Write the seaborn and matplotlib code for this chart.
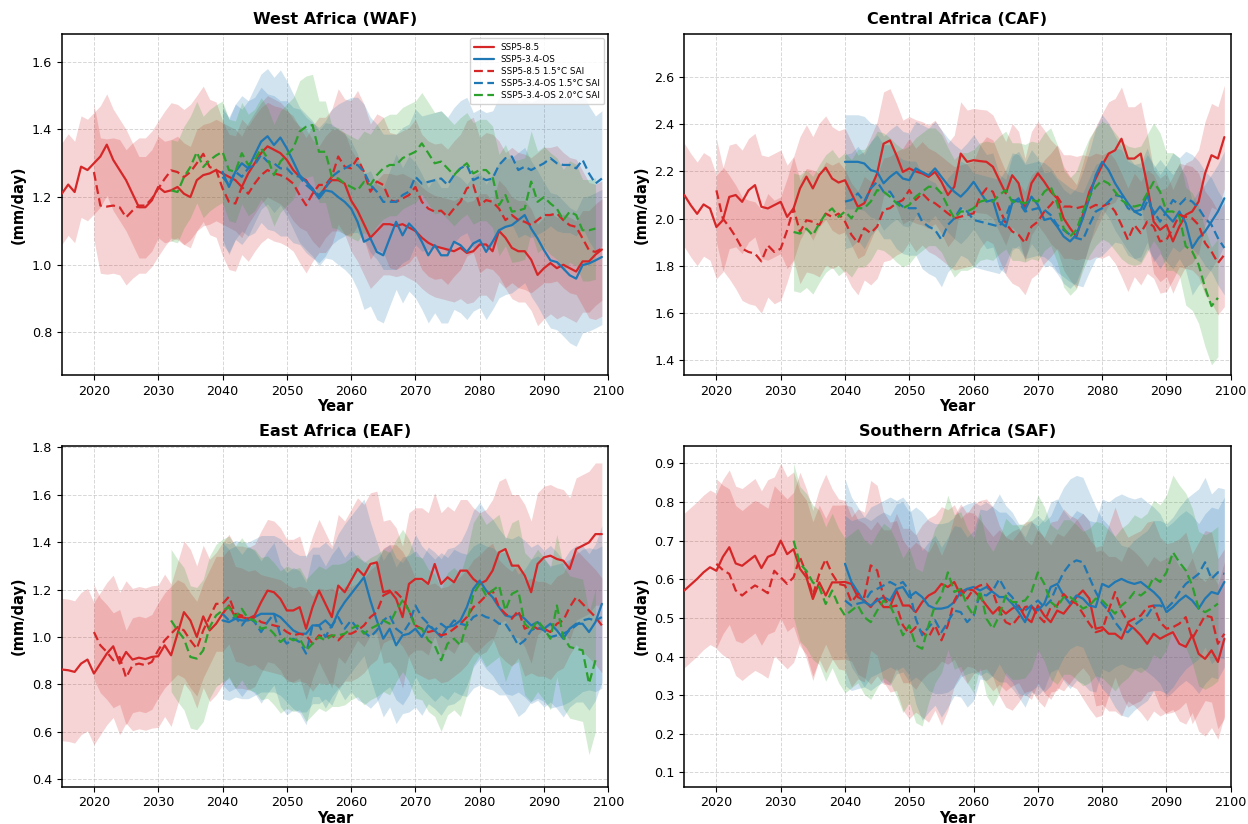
import numpy as np
import pandas as pd
import matplotlib
matplotlib.use("Agg")
import matplotlib.pyplot as plt
import seaborn as sns
from matplotlib.lines import Line2D

SCENARIOS = ["SSP5-8.5", "SSP5-3.4-OS", "SSP5-8.5 1.5°C SAI",
             "SSP5-3.4-OS 1.5°C SAI", "SSP5-3.4-OS 2.0°C SAI"]
START_YEARS = [2015, 2040, 2020, 2040, 2032]
COLORS = ["#d62728", "#1f77b4", "#d62728", "#1f77b4", "#2ca02c"]
DASHED = [False, False, True, True, True]
REGIONS = ["West Africa (WAF)", "Central Africa (CAF)",
           "East Africa (EAF)", "Southern Africa (SAF)"]
XTICKS = [2020, 2030, 2040, 2050, 2060, 2070, 2080, 2090, 2100]

# ---------------- West Africa ----------------
waf_ssp585 = [1.21, 1.237, 1.215, 1.29, 1.28, 1.30, 1.32, 1.355, 1.31, 1.28,
              1.25, 1.21, 1.17, 1.17, 1.19, 1.23, 1.215, 1.22, 1.23, 1.21,
              1.20, 1.25, 1.265, 1.27, 1.28,
              1.27, 1.26, 1.25, 1.23, 1.27, 1.30, 1.33, 1.35, 1.34, 1.33,
              1.31, 1.28, 1.26, 1.25, 1.22, 1.20, 1.23, 1.25, 1.25, 1.24,
              1.19, 1.16, 1.12, 1.08, 1.10, 1.12, 1.12, 1.115, 1.12, 1.11,
              1.10, 1.08, 1.065, 1.055, 1.05, 1.045, 1.04, 1.05, 1.035, 1.04,
              1.06, 1.06, 1.04, 1.10, 1.08, 1.05, 1.04, 1.04, 1.015, 0.97,
              0.99, 1.005, 0.99, 1.00, 0.99, 0.98, 1.01, 1.01, 1.03, 1.045]
waf_ssp534 = [1.275, 1.23, 1.275, 1.30, 1.285, 1.325, 1.364, 1.38, 1.354, 1.376,
              1.344, 1.305, 1.265, 1.245, 1.226, 1.196, 1.22, 1.216, 1.20, 1.186,
              1.166, 1.127, 1.068, 1.078, 1.038, 1.028, 1.078, 1.127, 1.087, 1.122,
              1.102, 1.068, 1.028, 1.058, 1.028, 1.028, 1.068, 1.058, 1.038, 1.063,
              1.073, 1.038, 1.068, 1.102, 1.112, 1.117, 1.132, 1.147, 1.107, 1.078,
              1.043, 1.013, 1.008, 0.989, 0.969, 0.959, 0.999, 1.004, 1.013, 1.023]
waf_sai85_15 = [1.274, 1.175, 1.172, 1.175, 1.17, 1.14, 1.16, 1.175, 1.175, 1.195,
                1.225, 1.254, 1.279, 1.274, 1.259, 1.274, 1.30, 1.328, 1.289, 1.281,
                1.226, 1.186, 1.181, 1.23, 1.21, 1.24, 1.265, 1.28, 1.27, 1.265,
                1.255, 1.24, 1.206, 1.176, 1.21, 1.236, 1.236, 1.26, 1.32, 1.29,
                1.285, 1.315, 1.275, 1.216, 1.246, 1.236, 1.191, 1.186, 1.196, 1.206,
                1.23, 1.186, 1.166, 1.157, 1.16, 1.142, 1.166, 1.186, 1.226, 1.236,
                1.176, 1.191, 1.186, 1.166, 1.132, 1.147, 1.132, 1.127, 1.117, 1.132,
                1.147, 1.147, 1.152, 1.132, 1.117, 1.112, 1.078, 1.043, 1.038, 1.048]
waf_sai34_15 = [1.26, 1.236, 1.275, 1.26, 1.285, 1.295, 1.325, 1.305, 1.30, 1.285,
                1.285, 1.265, 1.26, 1.236, 1.22, 1.206, 1.226, 1.26, 1.275, 1.285,
                1.295, 1.295, 1.275, 1.236, 1.216, 1.186, 1.186, 1.186, 1.206, 1.216,
                1.26, 1.24, 1.245, 1.25, 1.255, 1.236, 1.265, 1.285, 1.295, 1.25,
                1.26, 1.25, 1.255, 1.295, 1.315, 1.32, 1.28, 1.29, 1.28, 1.29,
                1.30, 1.315, 1.30, 1.295, 1.295, 1.285, 1.31, 1.27, 1.24, 1.255]
waf_sai34_20 = [1.22, 1.215, 1.259, 1.289, 1.333, 1.289, 1.309, 1.323,
                1.334, 1.28, 1.275, 1.33, 1.295, 1.31, 1.344, 1.315, 1.265, 1.305,
                1.325, 1.344, 1.394, 1.408, 1.413, 1.334, 1.334, 1.26, 1.255, 1.24,
                1.23, 1.22, 1.245, 1.236, 1.265, 1.285, 1.295, 1.295, 1.315, 1.325,
                1.334, 1.359, 1.33, 1.30, 1.305, 1.285, 1.265, 1.285, 1.30, 1.27,
                1.28, 1.28, 1.26, 1.176, 1.206, 1.157, 1.16, 1.166, 1.246, 1.186,
                1.20, 1.181, 1.166, 1.132, 1.157, 1.147, 1.102, 1.102, 1.107]
waf_spread = [0.15, 0.20, 0.20, 0.20, 0.15]
waf_ylim = (0.674, 1.682)
waf_yticks = [0.8, 1.0, 1.2, 1.4, 1.6]

# ---------------- Central Africa ----------------
caf_ssp585 = [2.10, 2.057, 2.02, 2.06, 2.043, 1.964, 1.993, 2.092, 2.10, 2.071,
              2.12, 2.142, 2.05, 2.043, 2.057, 2.071, 2.007, 2.043, 2.128, 2.178,
              2.128, 2.185, 2.216, 2.17, 2.153,
              2.163, 2.107, 2.05, 2.065, 2.128, 2.192, 2.318, 2.332, 2.269, 2.198,
              2.213, 2.20, 2.192, 2.177, 2.198, 2.156, 2.10, 2.135, 2.276, 2.241,
              2.248, 2.244, 2.241, 2.22, 2.163, 2.107, 2.184, 2.15, 2.036, 2.15,
              2.192, 2.156, 2.114, 2.086, 2.001, 1.959, 1.924, 2.016, 2.114, 2.17,
              2.227, 2.276, 2.29, 2.339, 2.255, 2.255, 2.276, 2.142, 1.987, 1.952,
              1.973, 1.903, 1.966, 2.016, 2.03, 2.072, 2.192, 2.269, 2.255, 2.346]
caf_ssp534 = [2.241, 2.241, 2.241, 2.234, 2.206, 2.198, 2.15, 2.177, 2.198, 2.17,
              2.163, 2.213, 2.198, 2.184, 2.213, 2.177, 2.142, 2.114, 2.093, 2.121,
              2.156, 2.114, 2.072, 2.079, 1.987, 1.966, 2.065, 2.086, 2.036, 2.093,
              2.058, 1.994, 2.001, 1.966, 1.924, 1.903, 1.931, 2.001, 2.086, 2.184,
              2.241, 2.206, 2.15, 2.107, 2.065, 2.03, 2.037, 2.10, 2.016, 2.051,
              2.016, 1.987, 2.03, 1.98, 1.875, 1.917, 1.945, 1.987, 2.03, 2.086]
caf_sai85_15 = [2.12, 2.0, 1.964, 1.922, 1.872, 1.858, 1.851, 1.818, 1.886, 1.858,
                1.872, 1.95, 2.043, 1.943, 1.993, 1.986, 1.972, 2.021, 2.007, 2.021,
                1.987, 1.931, 1.896, 1.959, 1.938, 1.966, 2.037, 2.044, 2.065, 2.079,
                2.121, 2.079, 2.107, 2.079, 2.065, 2.044, 2.022, 2.001, 2.008, 2.015,
                2.022, 2.093, 2.128, 2.114, 2.044, 1.98, 1.945, 1.931, 1.896, 1.966,
                1.987, 2.03, 2.058, 2.093, 2.051, 2.051, 2.044, 2.051, 2.044, 2.058,
                2.051, 2.065, 2.03, 1.973, 1.91, 1.973, 1.938, 1.987, 1.966, 1.903,
                1.91, 1.959, 2.015, 2.008, 2.001, 1.973, 1.896, 1.86, 1.811, 1.846]
caf_sai34_15 = [2.072, 2.079, 2.107, 2.072, 2.128, 2.156, 2.114, 2.114, 2.072, 2.051,
                2.044, 2.044, 1.987, 1.966, 1.952, 1.91, 1.973, 2.001, 2.044, 2.03,
                1.994, 1.987, 1.98, 1.973, 1.966, 2.008, 2.079, 2.072, 2.03, 2.037,
                2.044, 2.037, 2.015, 1.973, 1.952, 1.931, 1.917, 1.91, 1.973, 2.03,
                2.044, 2.072, 2.10, 2.093, 2.044, 2.03, 2.015, 2.072, 2.03, 1.987,
                2.03, 2.079, 2.058, 2.086, 2.072, 2.044, 2.001, 1.973, 1.917, 1.875]
caf_sai34_20 = [1.943, 1.936, 1.957, 1.929, 1.979, 2.021, 2.043, 2.007,
                2.03, 2.001, 2.044, 2.044, 2.072, 2.121, 2.114, 2.093, 2.065, 2.044,
                2.058, 2.093, 2.114, 2.135, 2.135, 2.107, 2.051, 2.001, 2.03, 2.03,
                2.044, 2.072, 2.079, 2.072, 2.10, 2.121, 2.072, 2.072, 2.065, 2.079,
                2.072, 2.114, 2.135, 2.065, 1.959, 1.924, 1.952, 2.03, 2.093, 2.135,
                2.163, 2.149, 2.114, 2.079, 2.058, 2.051, 2.058, 2.107, 2.156, 2.114,
                2.03, 2.03, 2.008, 1.882, 1.86, 1.804, 1.706, 1.628, 1.663]
caf_spread = [0.22, 0.20, 0.22, 0.20, 0.25]
caf_ylim = (1.335, 2.784)
caf_yticks = [1.4, 1.6, 1.8, 2.0, 2.2, 2.4, 2.6]

# ---------------- East Africa ----------------
eaf_ssp585 = [0.863, 0.86, 0.853, 0.888, 0.905, 0.846, 0.888, 0.93, 0.961, 0.888,
              0.937, 0.905, 0.913, 0.907, 0.916, 0.919, 0.965, 0.923, 1.014, 1.105,
              1.07, 1.0, 1.087, 1.028, 1.056,
              1.098, 1.133, 1.084, 1.084, 1.077, 1.091, 1.147, 1.196, 1.189, 1.161,
              1.112, 1.112, 1.126, 1.035, 1.126, 1.196, 1.14, 1.084, 1.217, 1.189,
              1.238, 1.287, 1.259, 1.308, 1.315, 1.189, 1.196, 1.161, 1.084, 1.224,
              1.245, 1.245, 1.224, 1.308, 1.224, 1.252, 1.231, 1.28, 1.28, 1.245,
              1.224, 1.238, 1.28, 1.357, 1.371, 1.301, 1.301, 1.259, 1.189, 1.308,
              1.336, 1.343, 1.329, 1.322, 1.287, 1.371, 1.385, 1.399, 1.434, 1.434]
eaf_ssp534 = [1.07, 1.063, 1.077, 1.07, 1.07, 1.084, 1.098, 1.098, 1.098, 1.084,
              1.056, 1.028, 1.014, 1.014, 1.049, 1.049, 1.07, 1.042, 1.105, 1.147,
              1.182, 1.217, 1.252, 1.154, 1.07, 0.993, 1.035, 0.965, 1.007, 1.014,
              1.035, 1.0, 1.049, 1.028, 1.0, 1.042, 1.049, 1.07, 1.126, 1.203,
              1.238, 1.196, 1.168, 1.126, 1.091, 1.084, 1.098, 1.077, 1.049, 1.063,
              1.035, 1.056, 1.028, 0.993, 1.035, 1.056, 1.056, 1.021, 1.063, 1.14]
eaf_sai85_15 = [1.021, 0.965, 0.937, 0.902, 0.916, 0.829, 0.881, 0.888, 0.881, 0.895,
                0.944, 0.986, 1.014, 1.042, 1.028, 0.986, 0.951, 1.028, 1.084, 1.14,
                1.14, 1.17, 1.098, 1.091, 1.077, 1.084, 1.063, 1.056, 1.049, 1.042,
                1.021, 1.007, 1.014, 1.007, 0.972, 1.007, 1.0, 1.007, 0.986, 1.014,
                1.014, 1.028, 1.049, 1.084, 1.105, 1.175, 1.189, 1.189, 1.161, 1.112,
                1.049, 1.035, 1.021, 1.028, 1.007, 1.014, 1.035, 1.056, 1.084, 1.126,
                1.147, 1.175, 1.196, 1.126, 1.098, 1.077, 1.112, 1.035, 1.049, 1.035,
                1.035, 1.021, 1.056, 1.07, 1.126, 1.168, 1.14, 1.112, 1.084, 1.049]
eaf_sai34_15 = [1.098, 1.07, 1.084, 1.049, 1.084, 1.063, 1.021, 1.063, 1.098, 1.007,
                0.972, 0.993, 0.979, 0.93, 1.049, 1.049, 1.0, 1.049, 1.084, 1.035,
                1.07, 1.035, 1.021, 1.0, 1.028, 1.07, 1.091, 1.035, 1.014, 1.056,
                1.133, 1.084, 1.056, 1.028, 1.056, 1.035, 1.07, 1.056, 1.049, 1.084,
                1.098, 1.084, 1.077, 1.056, 1.056, 1.014, 0.965, 0.986, 1.028, 1.042,
                1.028, 1.0, 1.007, 1.014, 1.028, 1.049, 1.07, 1.077, 1.07, 1.084]
eaf_sai34_20 = [1.07, 1.028, 0.993, 0.916, 0.909, 0.944, 1.042, 1.091,
                1.112, 1.126, 1.084, 1.119, 1.077, 1.07, 1.035, 1.042, 1.014, 0.979,
                1.0, 0.986, 0.993, 0.944, 0.972, 1.0, 0.986, 1.007, 1.007, 1.014,
                1.035, 1.049, 1.014, 1.035, 1.049, 1.07, 1.056, 1.112, 1.154, 1.112,
                1.042, 1.035, 0.986, 0.965, 0.902, 0.972, 0.993, 0.965, 1.056, 1.182,
                1.224, 1.175, 1.196, 1.217, 1.112, 1.182, 1.196, 1.056, 1.028, 1.07,
                1.035, 0.993, 1.133, 1.0, 0.958, 0.951, 0.944, 0.804, 0.902]
eaf_spread = [0.30, 0.33, 0.20, 0.30, 0.30]
eaf_ylim = (0.369, 1.807)
eaf_yticks = [0.4, 0.6, 0.8, 1.0, 1.2, 1.4, 1.6, 1.8]

# ---------------- Southern Africa ----------------
saf_ssp585 = [0.571, 0.586, 0.601, 0.618, 0.631, 0.622, 0.658, 0.683, 0.641, 0.635,
              0.648, 0.661, 0.629, 0.658, 0.665, 0.70, 0.665, 0.678, 0.627, 0.605,
              0.549, 0.592, 0.558, 0.592, 0.592,
              0.593, 0.588, 0.554, 0.545, 0.528, 0.55, 0.528, 0.528, 0.571, 0.532,
              0.532, 0.515, 0.541, 0.558, 0.567, 0.588, 0.58, 0.593, 0.558, 0.575,
              0.571, 0.554, 0.532, 0.511, 0.528, 0.511, 0.524, 0.532, 0.502, 0.489,
              0.532, 0.506, 0.489, 0.519, 0.511, 0.532, 0.554, 0.571, 0.55, 0.472,
              0.476, 0.459, 0.459, 0.446, 0.485, 0.472, 0.455, 0.433, 0.459, 0.446,
              0.455, 0.463, 0.433, 0.425, 0.455, 0.407, 0.394, 0.416, 0.386, 0.446]
saf_ssp534 = [0.64, 0.593, 0.567, 0.541, 0.532, 0.545, 0.554, 0.545, 0.575, 0.58,
              0.554, 0.567, 0.554, 0.532, 0.524, 0.524, 0.528, 0.541, 0.567, 0.575,
              0.58, 0.571, 0.58, 0.567, 0.554, 0.554, 0.537, 0.515, 0.489, 0.528,
              0.519, 0.537, 0.58, 0.588, 0.558, 0.537, 0.558, 0.55, 0.532, 0.528,
              0.588, 0.58, 0.593, 0.601, 0.593, 0.588, 0.593, 0.58, 0.567, 0.55,
              0.515, 0.528, 0.545, 0.558, 0.545, 0.524, 0.55, 0.567, 0.562, 0.593]
saf_sai85_15 = [0.64, 0.624, 0.614, 0.571, 0.558, 0.572, 0.584, 0.575, 0.564, 0.622,
                0.605, 0.588, 0.605, 0.657, 0.614, 0.558, 0.614, 0.652, 0.614, 0.588,
                0.584, 0.541, 0.562, 0.554, 0.636, 0.623, 0.554, 0.528, 0.532, 0.481,
                0.459, 0.476, 0.463, 0.45, 0.481, 0.442, 0.481, 0.545, 0.575, 0.55,
                0.575, 0.584, 0.588, 0.567, 0.519, 0.489, 0.481, 0.502, 0.528, 0.532,
                0.506, 0.489, 0.528, 0.532, 0.562, 0.545, 0.537, 0.511, 0.485, 0.463,
                0.468, 0.519, 0.567, 0.519, 0.489, 0.498, 0.506, 0.528, 0.532, 0.489,
                0.472, 0.476, 0.485, 0.502, 0.446, 0.476, 0.506, 0.502, 0.433, 0.459]
saf_sai34_15 = [0.545, 0.532, 0.537, 0.541, 0.567, 0.575, 0.584, 0.593, 0.584, 0.593,
                0.571, 0.498, 0.455, 0.476, 0.494, 0.463, 0.489, 0.519, 0.515, 0.489,
                0.506, 0.562, 0.558, 0.571, 0.601, 0.571, 0.554, 0.524, 0.519, 0.532,
                0.545, 0.528, 0.545, 0.584, 0.618, 0.64, 0.649, 0.644, 0.605, 0.567,
                0.537, 0.519, 0.489, 0.468, 0.463, 0.481, 0.494, 0.506, 0.532, 0.532,
                0.524, 0.541, 0.567, 0.588, 0.601, 0.614, 0.644, 0.601, 0.618, 0.614]
saf_sai34_20 = [0.70, 0.64, 0.622, 0.592, 0.579, 0.536, 0.571, 0.532,
                0.506, 0.519, 0.532, 0.502, 0.489, 0.519, 0.545, 0.532, 0.498, 0.455,
                0.481, 0.429, 0.42, 0.481, 0.532, 0.558, 0.618, 0.567, 0.575, 0.532,
                0.506, 0.571, 0.498, 0.472, 0.506, 0.558, 0.541, 0.541, 0.545, 0.567,
                0.618, 0.588, 0.541, 0.528, 0.554, 0.554, 0.541, 0.524, 0.532, 0.55,
                0.545, 0.528, 0.511, 0.532, 0.545, 0.567, 0.558, 0.571, 0.605, 0.593,
                0.618, 0.67, 0.644, 0.623, 0.584, 0.524, 0.515, 0.524, 0.537]
saf_spread = [0.20, 0.22, 0.22, 0.22, 0.20]
saf_ylim = (0.063, 0.946)
saf_yticks = [0.1, 0.2, 0.3, 0.4, 0.5, 0.6, 0.7, 0.8, 0.9]

PANELS = [
    (REGIONS[0], [waf_ssp585, waf_ssp534, waf_sai85_15, waf_sai34_15, waf_sai34_20], waf_spread, waf_ylim, waf_yticks),
    (REGIONS[1], [caf_ssp585, caf_ssp534, caf_sai85_15, caf_sai34_15, caf_sai34_20], caf_spread, caf_ylim, caf_yticks),
    (REGIONS[2], [eaf_ssp585, eaf_ssp534, eaf_sai85_15, eaf_sai34_15, eaf_sai34_20], eaf_spread, eaf_ylim, eaf_yticks),
    (REGIONS[3], [saf_ssp585, saf_ssp534, saf_sai85_15, saf_sai34_15, saf_sai34_20], saf_spread, saf_ylim, saf_yticks),
]

sns.set_style("ticks")
plt.rcParams["font.family"] = ["DejaVu Sans"]
plt.rcParams["text.color"] = "black"
plt.rcParams["axes.labelcolor"] = "black"
plt.rcParams["xtick.color"] = "black"
plt.rcParams["ytick.color"] = "black"

fig, axes = plt.subplots(2, 2, figsize=(12.48, 8.24), dpi=100)
fig.subplots_adjust(left=0.0495, right=0.9862, bottom=0.0453, top=0.9587,
                    wspace=0.139, hspace=0.207)

palette = dict(zip(SCENARIOS, COLORS))
dashes = {s: ((4, 2) if d else "") for s, d in zip(SCENARIOS, DASHED)}

for i, (ax, (title, series, spread, ylim, yticks)) in enumerate(zip(axes.flat, PANELS)):
    frames = []
    for name, start, vals, col, sp in zip(SCENARIOS, START_YEARS, series, COLORS, spread):
        yrs = np.arange(start, start + len(vals))
        v = np.asarray(vals)
        ax.fill_between(yrs, v - sp, v + sp, color=col, alpha=0.2, lw=0, zorder=1)
        frames.append(pd.DataFrame({"Year": yrs, "value": v, "scenario": name}))
    df = pd.concat(frames, ignore_index=True)
    sns.lineplot(data=df, x="Year", y="value", hue="scenario", style="scenario",
                 hue_order=SCENARIOS, style_order=SCENARIOS, palette=palette,
                 dashes=dashes, linewidth=1.6, estimator=None, errorbar=None,
                 legend=False, ax=ax, zorder=3)
    ax.set_xlim(2015, 2100)
    ax.set_ylim(*ylim)
    ax.set_xticks(XTICKS)
    ax.set_yticks(yticks)
    ax.grid(True, linestyle="--", linewidth=0.7, color="#b0b0b0", alpha=0.5)
    ax.set_title(title, fontsize=11.5, fontweight="bold", pad=7)
    ax.set_xlabel("Year", fontsize=10.5, fontweight="bold", labelpad=1)
    ax.set_ylabel("(mm/day)", fontsize=10.5, fontweight="bold", labelpad=4)
    ax.tick_params(labelsize=9.2, length=3.5, width=0.8, colors="black")
    for s in ax.spines.values():
        s.set_linewidth(1.1)
        s.set_color("black")
    if i == 0:
        handles = [Line2D([0], [0], color=c, lw=1.6, linestyle=(0, (4, 2)))
                   if d else Line2D([0], [0], color=c, lw=1.6)
                   for c, d in zip(COLORS, DASHED)]
        ax.legend(handles, SCENARIOS, loc="upper right", fontsize=6.3,
                  framealpha=0.85, handlelength=2.2, borderpad=0.5,
                  labelspacing=0.35, edgecolor="#cccccc")

fig.savefig("out.png", dpi=100)
